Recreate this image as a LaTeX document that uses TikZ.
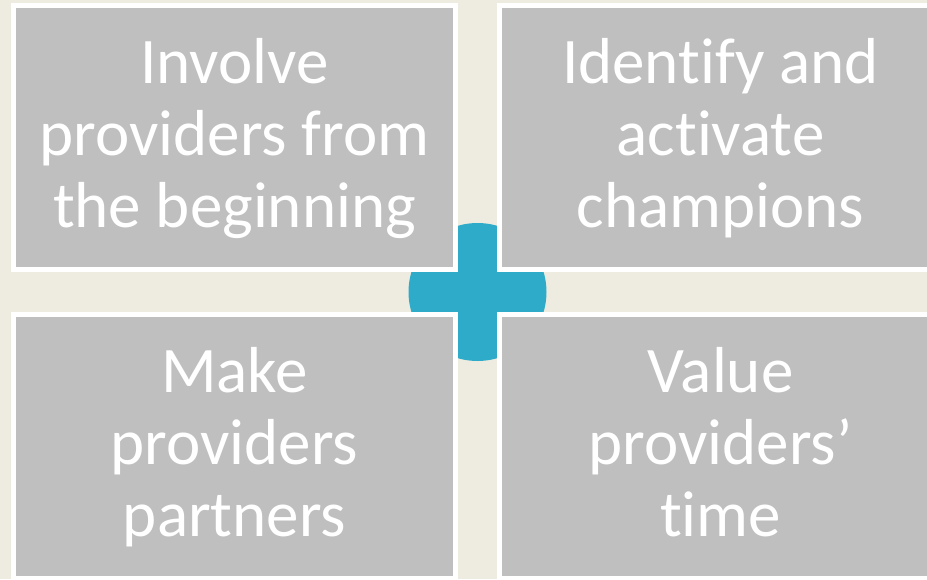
\documentclass[tikz,border=0pt]{standalone}
\usepackage{fontspec}
\setmainfont{Carlito}[Ligatures=NoCommon]
\definecolor{pagebg}{HTML}{EEECE1}
\definecolor{tilegray}{HTML}{BFBFBF}
\definecolor{plusblue}{HTML}{2EABC8}
\begin{document}
\begin{tikzpicture}[x=1pt,y=-1pt,
  tile/.style={rectangle, fill=tilegray, draw=white, line width=5pt,
    minimum width=442pt, minimum height=264pt, inner sep=0pt, outer sep=0pt},
  tiletext/.style={text=white, align=center, anchor=base, inner sep=0pt,
    font=\fontsize{65}{72}\selectfont}]
  % page background and frame
  \fill[pagebg] (0,0) rectangle (927,579);
  \useasboundingbox (0,0) rectangle (927,579);
  % the blue disc, partly hidden by the tiles so that a plus remains
  \node[circle, fill=plusblue, minimum size=138pt, inner sep=0pt] (plus) at (477.5,292) {};
  % four tiles
  \node[tile] (tl) at (234.5,137.5) {};
  \node[tile] (tr) at (720.5,137.5) {};
  \node[tile] (bl) at (234.5,446.5) {};
  \node[tile] (br) at (720.5,446.5) {};
  % tile captions
  \node[tiletext, yshift=-89.5pt] (tlt) at (tl.center) {Involve\\providers from\\the beginning};
  \node[tiletext, yshift=-89.5pt] (trt) at (tr.center) {Identify and\\activate\\champions};
  \node[tiletext, yshift=-89.5pt] (blt) at (bl.center) {Make\\providers\\partners};
  \node[tiletext, yshift=-89.5pt] (brt) at (br.center) {Value\\providers’\\time};
\end{tikzpicture}
\end{document}
